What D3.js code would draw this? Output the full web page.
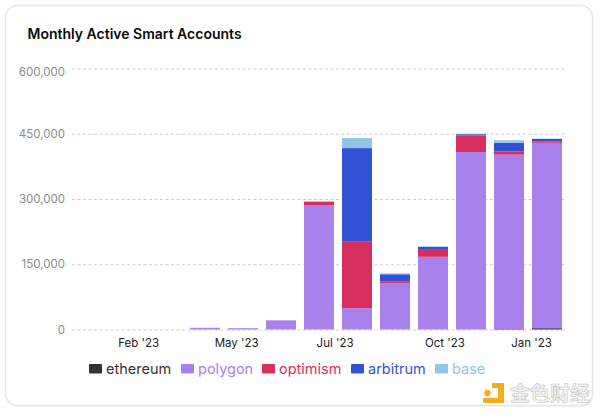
<!DOCTYPE html>
<html>
<head>
<meta charset="utf-8">
<script src="https://cdn.jsdelivr.net/npm/d3@7"></script>
<style>
html, body { margin: 0; padding: 0; background: #fff; }
svg { display: block; }
text { font-family: Inter, "Noto Sans", sans-serif; }
</style>
</head>
<body>
<div id="chart"></div>
<script>
const months = ["Jan 23", "Feb 23", "Mar 23", "Apr 23", "May 23", "Jun 23", "Jul 23", "Aug 23", "Sep 23", "Oct 23", "Nov 23", "Dec 23", "Jan 24"];
const seriesNames = ["ethereum", "polygon", "optimism", "arbitrum", "base"];
const seriesColors = ["#333333", "#a981ed", "#d72f5d", "#3252d6", "#92c5ea"];

const ethereum = [0, 0, 0, 0, 0, 0, 0, 0, 0, 0, 0, 1000, 3000];
const polygon = [0, 0, 0, 4000, 3000, 21000, 286000, 49000, 107000, 167000, 408000, 401000, 426000];
const optimism = [0, 0, 0, 0, 0, 0, 8000, 154000, 4000, 18000, 38000, 7000, 3000];
const arbitrum = [0, 0, 0, 0, 0, 0, 0, 214000, 16000, 5000, 3000, 20000, 6000];
const base = [0, 0, 0, 0, 0, 0, 0, 23000, 2000, 1000, 1000, 6000, 1000];

const yTicks = [0, 150000, 300000, 450000, 600000];
// tick labels do not sit under their bars in the original, position = month index
const xTickLabels = ["Feb '23", "May '23", "Jul '23", "Oct '23", "Jan '23"];
const xTickPos = [1.24, 3.82, 6.41, 9.3, 11.58];

const width = 600, height = 415;
const plotLeft = 72, plotRight = 566, plotTop = 68.5, plotBottom = 329.5;

const svg = d3.select("#chart").append("svg").attr("width", width).attr("height", height);

// card, soft shadow on the lower right edge
svg.append("rect")
    .attr("x", 6.5).attr("y", 6.5)
    .attr("width", 587).attr("height", 400)
    .attr("rx", 12)
    .attr("fill", "#eeeeee");
svg.append("rect")
    .attr("x", 5.5).attr("y", 5.5)
    .attr("width", 587).attr("height", 400)
    .attr("rx", 12)
    .attr("fill", "#fff")
    .attr("stroke", "#e6e6e6")
    .attr("stroke-width", 1.5);

svg.append("text")
    .attr("x", 27.5).attr("y", 39)
    .attr("font-size", 14)
    .attr("font-weight", 600)
    .attr("fill", "#0a0a0a")
    .text("Monthly Active Smart Accounts");

const x = d3.scaleBand().domain(months).range([plotLeft, plotRight]).paddingInner(8 / 38).paddingOuter(4 / 38);
const y = d3.scaleLinear().domain([0, 600000]).range([plotBottom, plotTop]);
const xLabel = d3.scaleLinear().domain([0, months.length]).range([plotLeft, plotRight]);

// gridlines + y labels
const yAxis = svg.append("g")
    .attr("transform", `translate(${plotLeft},0)`)
    .call(d3.axisLeft(y).tickValues(yTicks).tickFormat(d3.format(",")).tickSize(-(plotRight - plotLeft)).tickPadding(7));
yAxis.select(".domain").remove();
yAxis.selectAll("line").attr("stroke", "#cccccc").attr("stroke-dasharray", "3,2.5");
yAxis.selectAll("text").attr("fill", "#8b8b8b").attr("font-size", 11.5).style("font-family", "Inter, sans-serif");
// top label sits a little under its gridline in the original
yAxis.selectAll("text").filter(d => d === 600000).attr("dy", "0.62em");

// stacked bars
const rows = months.map((m, i) => ({
    month: m,
    ethereum: ethereum[i],
    polygon: polygon[i],
    optimism: optimism[i],
    arbitrum: arbitrum[i],
    base: base[i]
}));
const stacked = d3.stack().keys(seriesNames)(rows);

svg.append("g").selectAll("g")
    .data(stacked)
    .enter().append("g")
    .attr("fill", (d, i) => seriesColors[i])
    .selectAll("rect")
    .data(d => d.filter(p => p[1] > p[0]))
    .enter().append("rect")
    .attr("x", d => x(d.data.month))
    .attr("width", x.bandwidth())
    .attr("y", d => y(d[1]))
    .attr("height", d => y(d[0]) - y(d[1]));

// x labels
const xAxis = svg.append("g")
    .attr("transform", `translate(0,${plotBottom})`)
    .call(d3.axisBottom(xLabel).tickValues(xTickPos.map(p => p + 0.5))
        .tickFormat((d, i) => xTickLabels[i]).tickSize(0).tickPadding(9));
xAxis.select(".domain").remove();
xAxis.selectAll("text").attr("fill", "#1a1a1a").attr("font-size", 11.5).style("font-family", "Inter, sans-serif");

// legend
const legendX = [89, 181, 262, 351, 435];
const legend = svg.append("g").selectAll("g")
    .data(seriesNames)
    .enter().append("g")
    .attr("transform", (d, i) => `translate(${legendX[i]},368.5)`);
legend.append("rect")
    .attr("y", -4.5).attr("width", 13).attr("height", 9.5)
    .attr("rx", 1)
    .attr("fill", (d, i) => seriesColors[i]);
legend.append("text")
    .attr("x", 17).attr("y", 5)
    .attr("font-size", 14.5)
    .attr("fill", (d, i) => seriesColors[i])
    .text(d => d);

// watermark
const mark = svg.append("g").attr("fill", "#f4ad1c");
mark.append("rect").attr("x", 498).attr("y", 383).attr("width", 6).attr("height", 20).attr("rx", 1);
mark.append("rect").attr("x", 483).attr("y", 398).attr("width", 21).attr("height", 5).attr("rx", 1);
mark.append("rect").attr("x", 492).attr("y", 383).attr("width", 7).attr("height", 5);
mark.append("circle").attr("cx", 487.5).attr("cy", 393).attr("r", 3.2);
mark.append("text")
    .attr("x", 510).attr("y", 401)
    .attr("font-size", 20)
    .attr("font-weight", 700)
    .style("font-family", '"Noto Sans CJK SC"')
    .attr("fill", "#f3f3f3")
    .attr("stroke", "#bdbdbd")
    .attr("stroke-width", 0.5)
    .text("金色财经");
</script>
</body>
</html>
